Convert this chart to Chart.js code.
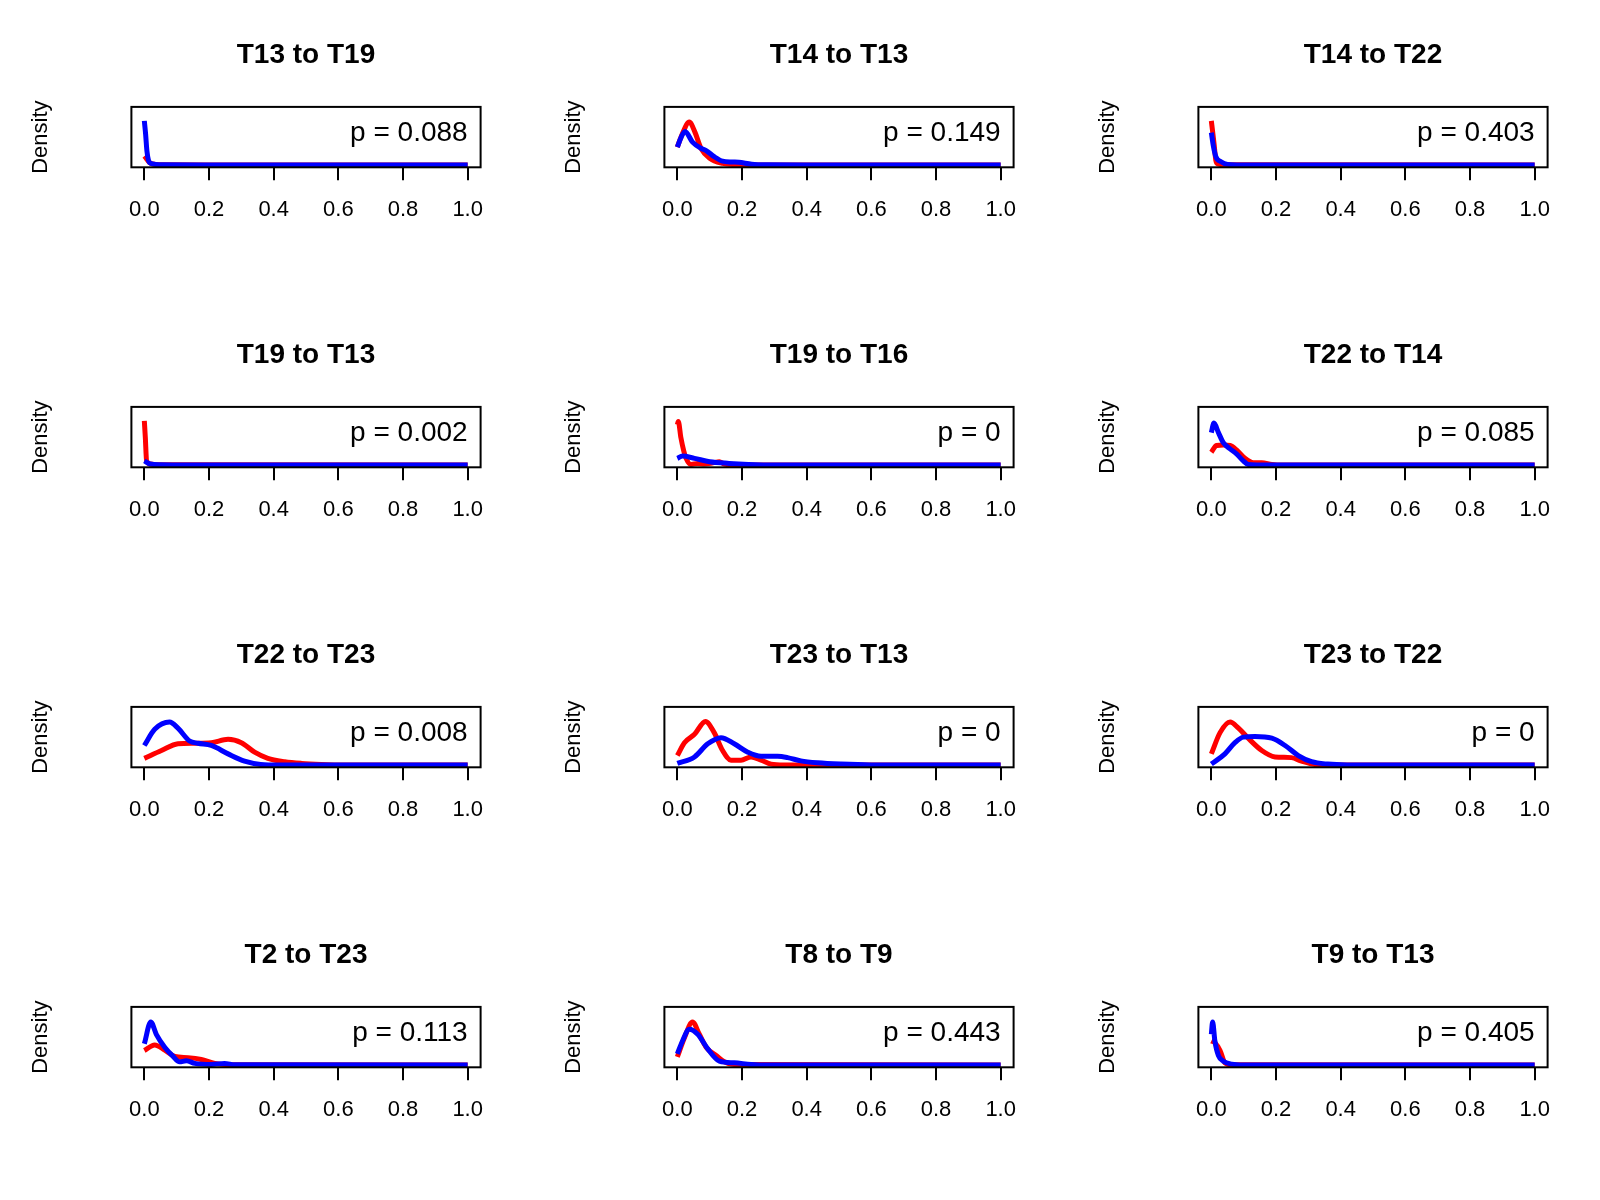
<!DOCTYPE html>
<html>
<head>
<meta charset="utf-8">
<script src="https://cdn.jsdelivr.net/npm/chart.js@4.4.1/dist/chart.umd.min.js"></script>
<style>
  html, body { margin: 0; padding: 0; background: #fff; }
  #page { position: relative; width: 1600px; height: 1200px; }
  .panel { position: absolute; width: 533px; height: 300px; }
</style>
</head>
<body>
<div id="page"></div>
<script>
// density curves, y given as share of each panel's y range (R draws no y ticks)
const xTicks = [0, 0.2, 0.4, 0.6, 0.8, 1.0]

const titles = ['T13 to T19', 'T14 to T13', 'T14 to T22',
                'T19 to T13', 'T19 to T16', 'T22 to T14',
                'T22 to T23', 'T23 to T13', 'T23 to T22',
                'T2 to T23', 'T8 to T9', 'T9 to T13']
const pValues = ['0.088', '0.149', '0.403',
                 '0.002', '0', '0.085',
                 '0.008', '0', '0',
                 '0.113', '0.443', '0.405']

const t13t19Red = [[0,0.16],[0.006,0.12],[0.012,0.07],[0.02,0.03],[0.035,0.012],[0.06,0.005],[0.2,0.002],[1,0]]
const t13t19Blue = [[0,0.79],[0.004,0.55],[0.008,0.25],[0.013,0.08],[0.02,0.03],[0.035,0.012],[0.06,0.006],[0.2,0.003],[0.5,0.001],[1,0]]

const t14t13Red = [[0,0.32],[0.015,0.55],[0.037,0.77],[0.055,0.58],[0.073,0.3],[0.1,0.12],[0.14,0.03],[0.18,0.01],[0.25,0.003],[1,0]]
const t14t13Blue = [[0,0.32],[0.012,0.5],[0.024,0.6],[0.047,0.41],[0.073,0.3],[0.089,0.26],[0.114,0.15],[0.14,0.07],[0.17,0.055],[0.19,0.05],[0.23,0.015],[0.28,0.004],[0.4,0.001],[1,0]]

const t14t22Red = [[0,0.79],[0.005,0.55],[0.009,0.35],[0.014,0.08],[0.02,0.02],[0.04,0.005],[1,0]]
const t14t22Blue = [[0,0.58],[0.006,0.35],[0.014,0.15],[0.03,0.06],[0.05,0.012],[0.08,0.003],[1,0]]

const t19t13Red = [[0,0.79],[0.003,0.5],[0.007,0.075],[0.018,0.02],[0.04,0.005],[1,0]]
const t19t13Blue = [[0,0.075],[0.018,0.02],[0.05,0.006],[0.15,0.002],[1,0]]

const t19t16Red = [[0,0.72],[0.003,0.78],[0.011,0.49],[0.02,0.25],[0.027,0.12],[0.042,0.01],[0.063,0.03],[0.084,0.02],[0.11,0.04],[0.13,0.06],[0.145,0.02],[0.19,0.003],[1,0]]
const t19t16Blue = [[0,0.12],[0.016,0.16],[0.053,0.12],[0.1,0.06],[0.16,0.03],[0.22,0.012],[0.31,0.002],[1,0]]

const t22t14Red = [[0,0.23],[0.016,0.35],[0.037,0.36],[0.058,0.35],[0.078,0.27],[0.104,0.12],[0.13,0.04],[0.156,0.04],[0.187,0.012],[0.22,0.002],[1,0]]
const t22t14Blue = [[0,0.58],[0.008,0.75],[0.022,0.58],[0.037,0.4],[0.058,0.29],[0.078,0.2],[0.099,0.075],[0.114,0.01],[0.14,0.002],[1,0]]

const t22t23Red = [[0,0.12],[0.053,0.26],[0.104,0.38],[0.156,0.39],[0.207,0.4],[0.259,0.46],[0.3,0.4],[0.341,0.23],[0.382,0.12],[0.434,0.06],[0.486,0.03],[0.547,0.012],[0.62,0.002],[1,0]]
const t22t23Blue = [[0,0.35],[0.032,0.64],[0.078,0.77],[0.104,0.66],[0.14,0.43],[0.166,0.39],[0.207,0.35],[0.259,0.2],[0.31,0.07],[0.36,0.012],[0.42,0.002],[1,0]]

const t23t13Red = [[0,0.17],[0.022,0.4],[0.053,0.55],[0.087,0.78],[0.114,0.58],[0.14,0.26],[0.166,0.087],[0.197,0.087],[0.228,0.145],[0.259,0.087],[0.29,0.017],[0.33,0.002],[1,0]]
const t23t13Blue = [[0,0.03],[0.053,0.145],[0.094,0.38],[0.135,0.49],[0.176,0.38],[0.218,0.23],[0.259,0.156],[0.31,0.156],[0.341,0.133],[0.382,0.075],[0.434,0.04],[0.506,0.017],[0.6,0.003],[1,0]]

const t23t22Red = [[0,0.2],[0.027,0.58],[0.058,0.77],[0.084,0.66],[0.114,0.48],[0.156,0.26],[0.197,0.145],[0.248,0.133],[0.279,0.07],[0.32,0.012],[0.37,0.002],[1,0]]
const t23t22Blue = [[0,0.017],[0.042,0.2],[0.073,0.4],[0.099,0.5],[0.135,0.51],[0.187,0.48],[0.228,0.35],[0.269,0.17],[0.31,0.06],[0.36,0.017],[0.42,0.003],[1,0]]

const t2t23Red = [[0,0.26],[0.032,0.36],[0.063,0.27],[0.094,0.156],[0.135,0.133],[0.176,0.1],[0.218,0.03],[0.26,0.004],[1,0]]
const t2t23Blue = [[0,0.38],[0.02,0.77],[0.037,0.55],[0.063,0.32],[0.089,0.156],[0.109,0.058],[0.13,0.075],[0.156,0.03],[0.207,0.012],[0.248,0.03],[0.28,0.005],[1,0]]

const t8t9Red = [[0,0.145],[0.022,0.49],[0.047,0.77],[0.068,0.55],[0.089,0.32],[0.12,0.17],[0.145,0.058],[0.175,0.008],[1,0]]
const t8t9Blue = [[0,0.2],[0.016,0.43],[0.037,0.64],[0.063,0.55],[0.094,0.29],[0.13,0.07],[0.176,0.04],[0.228,0.012],[0.28,0.002],[1,0]]

const t9t13Red = [[0,0.43],[0.011,0.4],[0.027,0.26],[0.042,0.04],[0.063,0.005],[1,0]]
const t9t13Blue = [[0,0.55],[0.004,0.77],[0.011,0.43],[0.022,0.17],[0.037,0.07],[0.063,0.017],[0.1,0.002],[1,0]]

const redCurves = [t13t19Red, t14t13Red, t14t22Red, t19t13Red, t19t16Red, t22t14Red,
                   t22t23Red, t23t13Red, t23t22Red, t2t23Red, t8t9Red, t9t13Red]
const blueCurves = [t13t19Blue, t14t13Blue, t14t22Blue, t19t13Blue, t19t16Blue, t22t14Blue,
                    t22t23Blue, t23t13Blue, t23t22Blue, t2t23Blue, t8t9Blue, t9t13Blue]

Chart.defaults.font.family = '"Liberation Sans", Arial, Helvetica, sans-serif'
Chart.defaults.color = '#000'

// box round the plot region and the p value in the top right corner
const pLabel = {
  id: 'pLabel',
  afterDraw(chart, args, opts) {
    const {ctx, chartArea} = chart
    ctx.save()
    ctx.strokeStyle = '#000'
    ctx.lineWidth = 2
    ctx.strokeRect(chartArea.left, chartArea.top, chartArea.right - chartArea.left, chartArea.bottom - chartArea.top)
    ctx.fillStyle = '#000'
    ctx.font = '28px "Liberation Sans", Arial, Helvetica, sans-serif'
    ctx.textAlign = 'right'
    ctx.textBaseline = 'middle'
    ctx.fillText(opts.text, chart.scales.x.getPixelForValue(1.0), chartArea.top + 26)
    ctx.restore()
  }
}

function toPoints (curve) {
  return curve.map(([x, y]) => ({x: x, y: y}))
}

const page = document.getElementById('page')

titles.forEach((title, i) => {
  const col = i % 3
  const row = Math.floor(i / 3)
  const div = document.createElement('div')
  div.className = 'panel'
  div.style.left = (col * 533.333) + 'px'
  div.style.top = (row * 300) + 'px'
  const canvas = document.createElement('canvas')
  div.appendChild(canvas)
  page.appendChild(div)

  new Chart(canvas, {
    type: 'line',
    data: {
      datasets: [{
        label: 'blue',
        data: toPoints(blueCurves[i]),
        borderColor: '#0000FF',
        borderWidth: 5,
        pointRadius: 0,
        cubicInterpolationMode: 'monotone',
        fill: false
      }, {
        label: 'red',
        data: toPoints(redCurves[i]),
        borderColor: '#FF0000',
        borderWidth: 5,
        pointRadius: 0,
        cubicInterpolationMode: 'monotone',
        fill: false
      }]
    },
    options: {
      animation: false,
      responsive: true,
      maintainAspectRatio: false,
      events: [],
      layout: { padding: { left: 27.8, right: 52.4, top: 38.8, bottom: 0 } },
      plugins: {
        legend: { display: false },
        tooltip: { enabled: false },
        title: {
          display: true,
          text: title,
          fullSize: false,
          color: '#000',
          font: { size: 28, weight: 'bold' },
          padding: { top: 0, bottom: 34.5 }
        },
        pLabel: { text: 'p = ' + pValues[i] }
      },
      scales: {
        x: {
          type: 'linear',
          min: -0.04,
          max: 1.04,
          afterBuildTicks: scale => { scale.ticks = xTicks.map(v => ({value: v})) },
          afterFit: scale => { scale.height = 132.7 },
          ticks: {
            autoSkip: false,
            maxRotation: 0,
            padding: 16,
            color: '#000',
            font: { size: 22 },
            callback: v => v.toFixed(1)
          },
          grid: { drawOnChartArea: false, drawTicks: true, tickLength: 13, color: '#000', lineWidth: 2 },
          border: { display: false }
        },
        y: {
          min: -0.04,
          max: 1.04,
          afterFit: scale => { scale.width = 103.6 },
          ticks: { display: false },
          grid: { display: false },
          border: { display: false },
          title: { display: true, text: 'Density', color: '#000', font: { size: 22 }, padding: 0 }
        }
      }
    },
    plugins: [pLabel]
  })
})
</script>
</body>
</html>
